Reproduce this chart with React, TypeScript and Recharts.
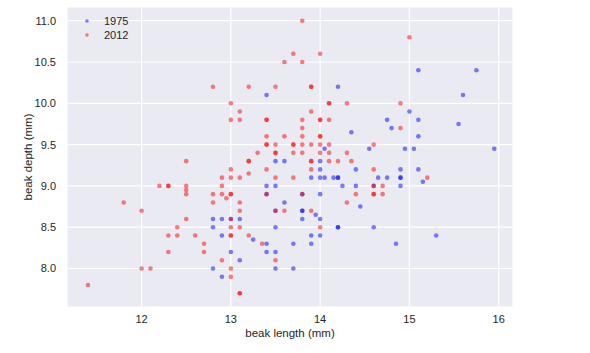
import React from 'react';
import { ScatterChart, Scatter, XAxis, YAxis, CartesianGrid } from 'recharts';

const length1975 = [
  14.2, 13.4, 15.1, 15.75, 15.6, 15.0, 14.75, 15.1, 15.55, 14.8,
  14.35, 15.1, 14.55, 14.95, 15.05, 15.95, 14.4, 14.9, 15.1, 14.65,
  14.75, 14.9, 14.9, 15.15, 14.4, 14.6, 14.9, 14.45, 14.6, 14.85,
  15.3, 14.05, 14.0, 13.5, 13.6, 14.0, 13.9, 14.0, 14.05, 14.15,
  14.2, 14.2, 14.25, 13.4, 13.5, 13.4, 13.8, 14.0, 13.6, 13.5,
  13.8, 13.8, 13.95, 12.8, 12.9, 13.0, 13.1, 13.8, 14.0, 12.8,
  13.5, 14.2, 14.2, 12.9, 13.9, 14.0, 13.25, 13.4, 13.7, 13.9,
  13.0, 13.4, 13.5, 13.1, 12.8, 13.5, 13.7, 12.9,
];
const depth1975 = [
  10.2, 10.1, 10.4, 10.4, 10.1, 9.9, 9.8, 9.8, 9.75, 9.7,
  9.65, 9.6, 9.45, 9.45, 9.45, 9.45, 9.2, 9.2, 9.2, 9.1,
  9.1, 9.1, 9.1, 9.05, 9.0, 9.0, 9.0, 8.75, 8.5, 8.3,
  8.4, 9.45, 9.3, 9.3, 9.3, 9.2, 9.1, 9.1, 9.1, 9.1,
  9.1, 9.1, 9.0, 9.0, 9.0, 8.9, 8.9, 8.9, 8.8, 8.7,
  8.7, 8.7, 8.65, 8.6, 8.6, 8.6, 8.6, 8.6, 8.6, 8.5,
  8.5, 8.5, 8.5, 8.4, 8.4, 8.4, 8.35, 8.3, 8.3, 8.3,
  8.2, 8.2, 8.2, 8.1, 8.0, 8.0, 8.0, 7.9,
];
const length2012 = [
  12.8, 13.8, 13.7, 14.0, 13.6, 13.8, 13.2, 13.5, 13.9, 13.9,
  13.0, 14.1, 14.1, 14.3, 13.1, 13.9, 13.0, 13.1, 13.4, 13.4,
  13.8, 14.0, 14.0, 14.1, 15.0, 14.9, 13.8, 14.9, 13.4, 13.6,
  13.8, 14.0, 14.0, 14.6, 13.4, 13.4, 13.5, 13.7, 13.7, 13.8,
  13.9, 14.0, 14.1, 13.3, 13.5, 13.5, 13.7, 13.8, 14.0, 14.1,
  14.3, 13.2, 13.2, 13.9, 13.9, 14.1, 14.2, 14.35, 12.5, 13.0,
  13.4, 13.9, 14.6, 13.2, 12.9, 13.0, 13.1, 13.5, 13.7, 15.2,
  12.2, 12.3, 12.3, 12.5, 12.9, 14.6, 14.7, 12.5, 12.5, 12.8,
  12.9, 13.0, 13.0, 13.4, 13.8, 14.4, 14.6, 14.6, 14.7, 12.95,
  11.8, 12.8, 13.1, 14.3, 12.0, 13.1, 13.5, 13.6, 13.9, 12.5,
  13.0, 12.4, 13.0, 13.1, 14.0, 12.3, 12.4, 12.6, 13.0, 13.0,
  13.2, 12.7, 13.35, 12.3, 12.7, 12.9, 13.5, 12.0, 12.1, 13.0,
  13.0, 13.1, 13.1, 11.4,
];
const depth2012 = [
  10.2, 11.0, 10.6, 10.6, 10.5, 10.5, 10.2, 10.2, 10.2, 10.2,
  10.0, 10.0, 10.0, 10.0, 9.9, 9.9, 9.8, 9.8, 9.8, 9.8,
  9.8, 9.8, 9.8, 9.8, 10.8, 10.0, 9.7, 9.7, 9.6, 9.6,
  9.6, 9.6, 9.6, 9.5, 9.5, 9.5, 9.5, 9.5, 9.5, 9.5,
  9.5, 9.5, 9.5, 9.4, 9.4, 9.4, 9.4, 9.4, 9.4, 9.4,
  9.4, 9.3, 9.3, 9.3, 9.3, 9.3, 9.3, 9.3, 9.3, 9.2,
  9.2, 9.2, 9.2, 9.15, 9.1, 9.1, 9.1, 9.1, 9.1, 9.1,
  9.0, 9.0, 9.0, 9.0, 9.0, 9.0, 9.0, 8.95, 8.9, 8.9,
  8.9, 8.9, 8.9, 8.9, 8.9, 8.9, 8.9, 8.9, 8.9, 8.85,
  8.8, 8.8, 8.8, 8.8, 8.7, 8.7, 8.7, 8.7, 8.7, 8.6,
  8.6, 8.5, 8.5, 8.5, 8.5, 8.4, 8.4, 8.4, 8.4, 8.4,
  8.4, 8.3, 8.3, 8.2, 8.2, 8.1, 8.1, 8.0, 8.0, 8.0,
  7.9, 7.7, 7.7, 7.8,
];

const xTicks = [12, 13, 14, 15, 16];
const yTicks = [8.0, 8.5, 9.0, 9.5, 10.0, 10.5, 11.0];
const seriesNames = ['1975', '2012'];
const seriesColors = ['blue', 'red'];

const toPoints = (xs: number[], ys: number[]) => xs.map((x, i) => ({ length: x, depth: ys[i] }));

const data1975 = toPoints(length1975, depth1975);
const data2012 = toPoints(length2012, depth2012);

const font = '"Liberation Sans", Arial, sans-serif';
const textColor = '#262626';

const makeDot = (color: string) => (props: any) => (
  <circle cx={props.cx} cy={props.cy} r={2.3} fill={color} fillOpacity={0.5} />
);

const YLabel = (props: any) => {
  const vb = props.viewBox || { x: 0, y: 7, width: 67, height: 300 };
  const cx = 29;
  const cy = vb.y + vb.height / 2;
  return (
    <text
      x={cx}
      y={cy}
      transform={`rotate(-90 ${cx} ${cy})`}
      textAnchor="middle"
      dominantBaseline="middle"
      fontFamily={font}
      fontSize={11.5}
      fill={textColor}
    >
      beak depth (mm)
    </text>
  );
};

export default function App() {
  return (
    <div style={{ position: 'absolute', left: 0, top: 0, width: 590, height: 353, background: '#fff' }}>
      <ScatterChart width={590} height={353} margin={{ top: 7, right: 77, bottom: 0, left: 0 }}>
        <CartesianGrid fill="#EAEAF2" stroke="#ffffff" strokeWidth={1.2} />
        <XAxis
          type="number"
          dataKey="length"
          domain={[11.165, 16.16]}
          ticks={xTicks}
          allowDataOverflow
          axisLine={false}
          tickLine={false}
          height={46}
          tick={{ fontFamily: font, fontSize: 11, fill: textColor }}
          tickMargin={2}
          label={{
            value: 'beak length (mm)',
            position: 'insideBottom',
            offset: 16,
            style: { fontFamily: font, fontSize: 11.5, fill: textColor },
          }}
        />
        <YAxis
          type="number"
          dataKey="depth"
          domain={[7.534, 11.166]}
          ticks={yTicks}
          allowDataOverflow
          axisLine={false}
          tickLine={false}
          width={67}
          tickMargin={5}
          tickFormatter={(v: number) => v.toFixed(1)}
          tick={{ fontFamily: font, fontSize: 11, fill: textColor }}
          label={<YLabel />}
        />
        <Scatter name={seriesNames[0]} data={data1975} shape={makeDot(seriesColors[0])} isAnimationActive={false} />
        <Scatter name={seriesNames[1]} data={data2012} shape={makeDot(seriesColors[1])} isAnimationActive={false} />
      </ScatterChart>
      {/* legend, top-left inside the plot */}
      <div style={{ position: 'absolute', left: 81, top: 14, fontFamily: font, fontSize: 11, color: textColor }}>
        {seriesNames.map((name, i) => (
          <div key={name} style={{ display: 'flex', alignItems: 'center', height: 14 }}>
            <svg width={12} height={10}>
              <circle cx={6} cy={5} r={1.8} fill={seriesColors[i]} fillOpacity={0.5} />
            </svg>
            <span style={{ marginLeft: 11 }}>{name}</span>
          </div>
        ))}
      </div>
    </div>
  );
}
